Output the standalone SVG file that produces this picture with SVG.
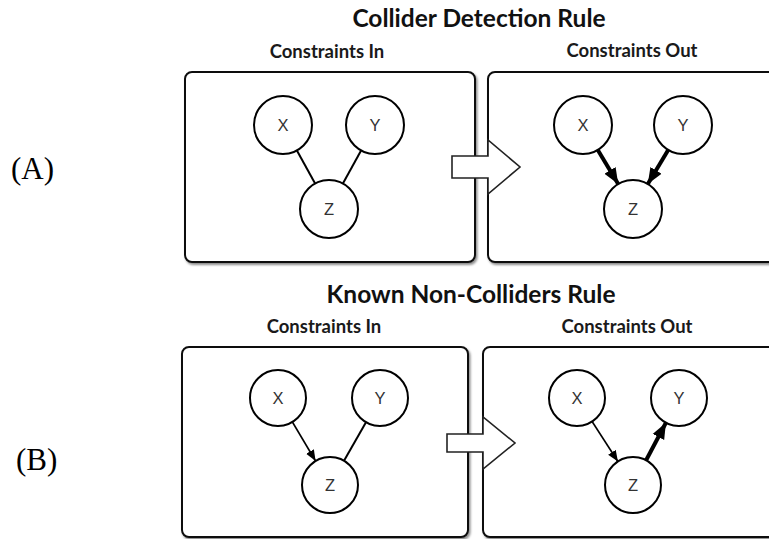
<svg xmlns="http://www.w3.org/2000/svg" width="769" height="539" viewBox="0 0 769 539">
  <defs>
    <filter id="shadow" x="-5%" y="-5%" width="110%" height="110%">
      <feDropShadow dx="1.5" dy="2" stdDeviation="1" flood-color="#000" flood-opacity="0.45"/>
    </filter>
    <marker id="headThin" markerUnits="userSpaceOnUse" markerWidth="12" markerHeight="10" refX="11" refY="5" orient="auto">
      <path d="M0,0.5 L11,5 L0,9.5 Z" fill="#000"/>
    </marker>
    <marker id="headThick" markerUnits="userSpaceOnUse" markerWidth="17" markerHeight="14" refX="16" refY="7" orient="auto">
      <path d="M0,0.5 L16,7 L0,13.5 Z" fill="#000"/>
    </marker>
  </defs>
  <style>
    .title { font-family: Lato, "Open Sans", sans-serif; font-weight: bold; font-size: 24.5px; fill: #111; text-anchor: middle; }
    .sub { font-family: Lato, "Open Sans", sans-serif; font-weight: bold; font-size: 18.5px; fill: #1a1a1a; text-anchor: middle; }
    .tag { font-family: "Liberation Serif", serif; font-size: 31px; fill: #000; }
    .panel { fill: #fff; stroke: #111; stroke-width: 2; filter: url(#shadow); }
    .node circle { fill: #fff; stroke: #000; stroke-width: 2; }
    .node text { font-family: "Liberation Sans", Arial, sans-serif; font-size: 16.5px; fill: #333; text-anchor: middle; dominant-baseline: central; }
    .edge { stroke: #000; fill: none; stroke-linecap: butt; }
    .plain { stroke-width: 2; }
    .thin { stroke-width: 1.6; marker-end: url(#headThin); }
    .thick { stroke-width: 4; marker-end: url(#headThick); }
    .block { fill: #fff; stroke: #222; stroke-width: 1.6; stroke-linejoin: miter; }
  </style>

  <rect width="769" height="539" fill="#fff"/>

  <!-- Row labels -->
  <text class="tag" x="11" y="179">(A)</text>
  <text class="tag" x="16" y="470">(B)</text>

  <!-- Headings -->
  <text class="title" x="479" y="27">Collider Detection Rule</text>
  <text class="sub" x="327" y="58">Constraints In</text>
  <text class="sub" x="632" y="57">Constraints Out</text>

  <text class="title" x="471" y="303">Known Non-Colliders Rule</text>
  <text class="sub" x="324" y="333">Constraints In</text>
  <text class="sub" x="627" y="333">Constraints Out</text>

  <!-- Panels -->
  <g id="panelA-in"><rect class="panel" x="185" y="72" width="290" height="190" rx="7"/></g>
  <g id="panelA-out"><rect class="panel" x="488" y="72" width="300" height="190" rx="7"/></g>
  <g id="panelB-in"><rect class="panel" x="182" y="347" width="286" height="190" rx="7"/></g>
  <g id="panelB-out"><rect class="panel" x="483" y="347" width="305" height="190" rx="7"/></g>

  <!-- Block arrows between panels -->
  <g id="arrowA"><polygon class="block" points="452,156 488,156 488,140 520,167 488,194 488,178 452,178"/></g>
  <g id="arrowB"><polygon class="block" points="447,434 483,434 483,417 515,443 483,469 483,452 447,452"/></g>

  <!-- Connectors -->
  <g id="connectors">
    <!-- A, in -->
    <line class="edge plain" x1="296.9" y1="150.4" x2="315.1" y2="183.6"/>
    <line class="edge plain" x1="361.1" y1="150.4" x2="342.9" y2="183.6"/>
    <!-- A, out -->
    <line class="edge thick" x1="597.8" y1="149.9" x2="618.2" y2="184.1"/>
    <line class="edge thick" x1="668.2" y1="149.9" x2="647.8" y2="184.1"/>
    <!-- B, in -->
    <line class="edge thin" x1="292.4" y1="422" x2="315.6" y2="461"/>
    <line class="edge plain" x1="366" y1="422.3" x2="344" y2="460.7"/>
    <!-- B, out -->
    <line class="edge thin" x1="592.1" y1="421.5" x2="617.9" y2="461.5"/>
    <line class="edge thick" x1="646.1" y1="460.2" x2="665.9" y2="422.8"/>
  </g>

  <!-- Nodes, panel A in -->
  <g id="A-in-X" class="node"><circle cx="283" cy="125" r="29"/><text x="283" y="125">X</text></g>
  <g id="A-in-Y" class="node"><circle cx="375" cy="125" r="29"/><text x="375" y="125">Y</text></g>
  <g id="A-in-Z" class="node"><circle cx="329" cy="209" r="29"/><text x="329" y="209">Z</text></g>

  <!-- Nodes, panel A out -->
  <g id="A-out-X" class="node"><circle cx="583" cy="125" r="29"/><text x="583" y="125">X</text></g>
  <g id="A-out-Y" class="node"><circle cx="683" cy="125" r="29"/><text x="683" y="125">Y</text></g>
  <g id="A-out-Z" class="node"><circle cx="633" cy="209" r="29"/><text x="633" y="209">Z</text></g>

  <!-- Nodes, panel B in -->
  <g id="B-in-X" class="node"><circle cx="278" cy="398" r="28"/><text x="278" y="398">X</text></g>
  <g id="B-in-Y" class="node"><circle cx="380" cy="398" r="28"/><text x="380" y="398">Y</text></g>
  <g id="B-in-Z" class="node"><circle cx="330" cy="485" r="28"/><text x="330" y="485">Z</text></g>

  <!-- Nodes, panel B out -->
  <g id="B-out-X" class="node"><circle cx="577" cy="398" r="28"/><text x="577" y="398">X</text></g>
  <g id="B-out-Y" class="node"><circle cx="679" cy="398" r="28"/><text x="679" y="398">Y</text></g>
  <g id="B-out-Z" class="node"><circle cx="633" cy="485" r="28"/><text x="633" y="485">Z</text></g>
</svg>
